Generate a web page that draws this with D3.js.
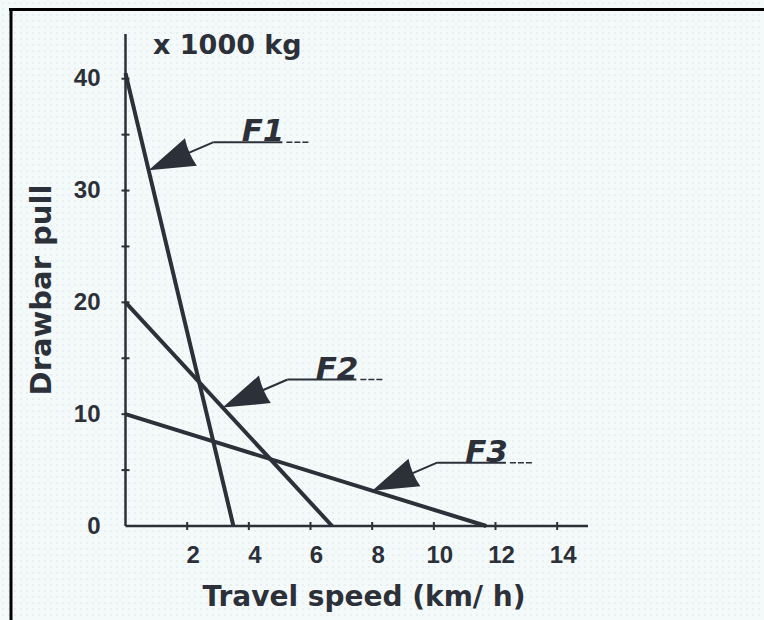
<!DOCTYPE html>
<html lang="en">
<head>
<meta charset="UTF-8">
<title>Drawbar pull vs travel speed</title>
<script src="https://cdn.jsdelivr.net/npm/d3@7"></script>
<style>
  * { margin: 0; padding: 0; }
  body { background: #f4f9fa; overflow: hidden; }
  svg { display: block; font-family: 'DejaVu Sans', 'Liberation Sans', Arial, sans-serif; }
  .ink { fill: #2b3039; }
  .tick-label { font-family: 'Liberation Sans', Arial, sans-serif; }
</style>
</head>
<body>
<svg id="chart" width="764" height="620"></svg>
<script>
// Data
const curveNames = ['F1', 'F2', 'F3'];
const pullAtStart = [40.5, 20, 10];      // x 1000 kg at 0 km/h
const speedAtZero = [3.5, 6.7, 11.7];     // km/h where pull reaches 0
const arrowSpeed = [0.75, 3.15, 8.0];     // where each label arrow points
const xTicks = [2, 4, 6, 8, 10, 12, 14];
const yTicks = [5, 10, 15, 20, 25, 30, 35, 40];
const yLabels = [0, 10, 20, 30, 40];

const INK = '#2b3039';
const svg = d3.select('#chart');

// dotted paper background
const defs = svg.append('defs');
const pat = defs.append('pattern')
  .attr('id', 'dots').attr('width', 6).attr('height', 6)
  .attr('patternUnits', 'userSpaceOnUse');
pat.append('rect').attr('width', 6).attr('height', 6).attr('fill', '#f4f9fa');
pat.append('circle').attr('cx', 3).attr('cy', 3).attr('r', 0.8).attr('fill', '#dce5e8');
svg.append('rect').attr('width', 764).attr('height', 620).attr('fill', 'url(#dots)');

// frame (top and left edge of the scan)
svg.append('line').attr('x1', 9).attr('x2', 764).attr('y1', 9.5).attr('y2', 9.5)
  .attr('stroke', '#000').attr('stroke-width', 3);
svg.append('line').attr('x1', 11).attr('x2', 11).attr('y1', 8).attr('y2', 620)
  .attr('stroke', '#000').attr('stroke-width', 3);

const x = d3.scaleLinear().domain([0, 15]).range([125.5, 588]);
const y = d3.scaleLinear().domain([0, 44]).range([526, 34]);

// axes
const g = svg.append('g');
g.append('line').attr('x1', x(0)).attr('x2', x(0)).attr('y1', y(44)).attr('y2', y(0))
  .attr('stroke', INK).attr('stroke-width', 2.5);
g.append('line').attr('x1', x(0)).attr('x2', x(15)).attr('y1', y(0)).attr('y2', y(0))
  .attr('stroke', INK).attr('stroke-width', 2.5);

g.selectAll('.ytick').data(yTicks).join('line')
  .attr('x1', x(0) - 4).attr('x2', x(0) + 4)
  .attr('y1', d => y(d)).attr('y2', d => y(d))
  .attr('stroke', INK).attr('stroke-width', 2);

g.selectAll('.xtick').data(xTicks).join('line')
  .attr('x1', d => x(d)).attr('x2', d => x(d))
  .attr('y1', y(0) - 4).attr('y2', y(0) + 4)
  .attr('stroke', INK).attr('stroke-width', 2);

g.selectAll('.ylab').data(yLabels).join('text')
  .attr('class', 'ink tick-label')
  .attr('x', x(0) - 25).attr('y', d => y(d) - 1)
  .attr('text-anchor', 'end').attr('dominant-baseline', 'central')
  .attr('font-size', 24).attr('font-weight', 'bold')
  .text(d => d);

g.selectAll('.xlab').data(xTicks).join('text')
  .attr('class', 'ink tick-label')
  .attr('x', d => x(d) + 6).attr('y', 563)
  .attr('text-anchor', 'middle')
  .attr('font-size', 24).attr('font-weight', 'bold')
  .text(d => d);

// titles
svg.append('text').attr('class', 'ink')
  .attr('x', 153).attr('y', 54)
  .attr('font-size', 27).attr('font-weight', 'bold')
  .text('x 1000 kg');

svg.append('text').attr('class', 'ink')
  .attr('x', 364).attr('y', 606).attr('text-anchor', 'middle')
  .attr('font-size', 28).attr('font-weight', 'bold')
  .text('Travel speed (km/ h)');

svg.append('text').attr('class', 'ink')
  .attr('transform', 'translate(51,290) rotate(-90)')
  .attr('text-anchor', 'middle')
  .attr('font-size', 29).attr('font-weight', 'bold')
  .text('Drawbar pull');

// curves
const curves = curveNames.map((name, i) => ({
  name,
  pts: [[0, pullAtStart[i]], [speedAtZero[i], 0]],
  at: arrowSpeed[i],
}));

const line = d3.line().x(d => x(d[0])).y(d => y(d[1]));
svg.append('g').selectAll('path').data(curves).join('path')
  .attr('d', d => line(d.pts))
  .attr('fill', 'none').attr('stroke', INK).attr('stroke-width', 4)
  .attr('stroke-linecap', 'butt');

// arrow callouts
const ELBOW = [65, -28];
const HEAD_LEN = 46, HEAD_HALF = 15;

const notes = svg.append('g');
curves.forEach(c => {
  const [[x0, y0], [x1]] = c.pts;
  const pull = y0 * (1 - c.at / x1);
  const tx = x(c.at), ty = y(pull);
  const ex = tx + ELBOW[0], ey = ty + ELBOW[1];
  const len = Math.hypot(ELBOW[0], ELBOW[1]);
  const ux = ELBOW[0] / len, uy = ELBOW[1] / len;
  const bx = tx + ux * HEAD_LEN, by = ty + uy * HEAD_LEN;

  notes.append('path')
    .attr('d', `M${tx},${ty}L${bx - uy * HEAD_HALF},${by + ux * HEAD_HALF}` +
      `Q${bx - ux * 3},${by - uy * 3} ${bx + uy * HEAD_HALF},${by - ux * HEAD_HALF}Z`)
    .attr('fill', INK);

  notes.append('line')
    .attr('x1', bx - ux * 3).attr('y1', by - uy * 3).attr('x2', ex).attr('y2', ey)
    .attr('stroke', INK).attr('stroke-width', 2);

  const textX = ex + 28;
  const label = notes.append('text').attr('class', 'ink')
    .attr('x', textX).attr('y', ey - 1)
    .attr('font-size', 31).attr('font-weight', 'bold').attr('font-style', 'italic')
    .text(c.name);
  const w = label.node().getComputedTextLength();

  notes.append('line')
    .attr('x1', ex).attr('x2', textX + w - 2).attr('y1', ey).attr('y2', ey)
    .attr('stroke', INK).attr('stroke-width', 2);
  notes.append('line')
    .attr('x1', textX + w + 2).attr('x2', textX + w + 24).attr('y1', ey).attr('y2', ey)
    .attr('stroke', INK).attr('stroke-width', 1.5).attr('stroke-dasharray', '6,2');
});
</script>
</body>
</html>
